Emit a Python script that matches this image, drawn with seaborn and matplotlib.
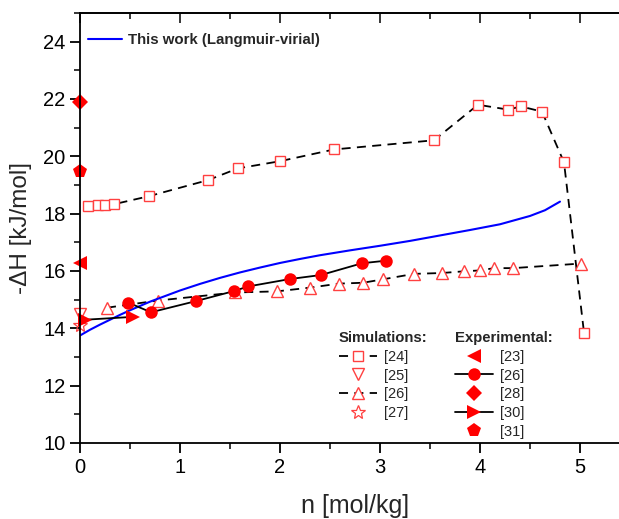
import seaborn as sns
import matplotlib.pyplot as plt
from matplotlib.lines import Line2D
from matplotlib.ticker import MultipleLocator, NullFormatter

sns.set_style('ticks')
plt.rcParams['font.family'] = ['Liberation Sans', 'DejaVu Sans']

# This work (Langmuir-virial)
fit_n = [0.0, 0.1, 0.2, 0.3, 0.4, 0.5, 0.6, 0.7, 0.8, 1.0, 1.2, 1.4, 1.6, 1.8, 2.0, 2.2, 2.4,
         2.7, 3.0, 3.3, 3.6, 3.9, 4.2, 4.5, 4.65, 4.8]
fit_dh = [13.75, 13.95, 14.13, 14.3, 14.47, 14.63, 14.78, 14.93, 15.06, 15.32, 15.55, 15.76,
          15.95, 16.12, 16.28, 16.42, 16.55, 16.72, 16.88, 17.05, 17.24, 17.43, 17.63, 17.92,
          18.12, 18.42]

# Simulations
sim24_n = [0.08, 0.18, 0.25, 0.34, 0.69, 1.28, 1.58, 2.0, 2.54, 3.54, 3.98, 4.28, 4.41, 4.62, 4.84, 5.04]
sim24_dh = [18.26, 18.30, 18.30, 18.33, 18.61, 19.17, 19.58, 19.83, 20.24, 20.56, 21.80, 21.63, 21.74, 21.56, 19.79, 13.85]
sim25_n = [0.0]
sim25_dh = [14.5]
sim26_n = [0.27, 0.78, 1.55, 1.97, 2.3, 2.59, 2.83, 3.03, 3.34, 3.62, 3.84, 4.0, 4.14, 4.33, 5.01]
sim26_dh = [14.72, 14.97, 15.25, 15.29, 15.42, 15.56, 15.59, 15.71, 15.9, 15.93, 15.99, 16.02, 16.1, 16.1, 16.26]
sim27_n = [0.0]
sim27_dh = [14.12]

# Experimental
exp23_n = [0.0]
exp23_dh = [16.27]
exp26_n = [0.48, 0.71, 1.16, 1.54, 1.68, 2.1, 2.41, 2.82, 3.06]
exp26_dh = [14.9, 14.56, 14.95, 15.3, 15.46, 15.72, 15.86, 16.27, 16.36]
exp28_n = [0.0]
exp28_dh = [21.9]
exp30_n = [0.05, 0.53]
exp30_dh = [14.3, 14.4]
exp31_n = [0.0]
exp31_dh = [19.48]

OPEN = '#ff4040'
FILL = '#ff0000'
DASH = (0, (5, 3.5))

fig = plt.figure(figsize=(6.19, 5.19), dpi=100)
ax = fig.add_axes([80 / 619, 76 / 519, 550 / 619, 430 / 519])

# simulation series (open markers)
sns.lineplot(x=sim24_n, y=sim24_dh, ax=ax, color='k', lw=1.3, linestyle=DASH, marker='s', ms=7,
             mfc='white', mec=OPEN, mew=1.0, errorbar=None, clip_on=False)
sns.lineplot(x=sim26_n, y=sim26_dh, ax=ax, color='k', lw=1.3, linestyle=DASH, marker='^', ms=9,
             mfc='white', mec=OPEN, mew=1.0, errorbar=None, clip_on=False)
sns.lineplot(x=sim25_n, y=sim25_dh, ax=ax, linestyle='none', marker='v', ms=9,
             mfc='none', mec=OPEN, mew=1.0, errorbar=None, clip_on=False)
sns.lineplot(x=sim27_n, y=sim27_dh, ax=ax, linestyle='none', marker='*', ms=10,
             mfc='none', mec=OPEN, mew=0.9, errorbar=None, clip_on=False)

# this work
sns.lineplot(x=fit_n, y=fit_dh, ax=ax, color='#0000ff', lw=1.5, errorbar=None)

# experimental series (filled markers)
sns.lineplot(x=exp26_n, y=exp26_dh, ax=ax, color='k', lw=1.3, marker='o', ms=9,
             mfc=FILL, mec=FILL, mew=0, errorbar=None)
sns.lineplot(x=exp30_n, y=exp30_dh, ax=ax, color='k', lw=1.3, marker='>', ms=10,
             mfc=FILL, mec=FILL, mew=0, errorbar=None, clip_on=False)
sns.lineplot(x=exp23_n, y=exp23_dh, ax=ax, linestyle='none', marker='<', ms=10,
             mfc=FILL, mec=FILL, mew=0, errorbar=None, clip_on=False)
sns.lineplot(x=exp28_n, y=exp28_dh, ax=ax, linestyle='none', marker='D', ms=8,
             mfc=FILL, mec=FILL, mew=0, errorbar=None, clip_on=False)
sns.lineplot(x=exp31_n, y=exp31_dh, ax=ax, linestyle='none', marker='p', ms=10,
             mfc=FILL, mec=FILL, mew=0, errorbar=None, clip_on=False)

ax.set_xlim(0, 5.5)
ax.set_ylim(10, 25)
ax.xaxis.set_major_locator(MultipleLocator(1))
ax.xaxis.set_minor_locator(MultipleLocator(0.5))
ax.yaxis.set_major_locator(MultipleLocator(2))
ax.yaxis.set_minor_locator(MultipleLocator(1))
ax.tick_params(which='major', direction='out', length=7, width=1.3, labelsize=14.5, colors='k')
ax.tick_params(which='minor', direction='out', length=4, width=1.3)
for side in ['left', 'bottom', 'top']:
    ax.spines[side].set_linewidth(1.3)
    ax.spines[side].set_color('k')
ax.spines['right'].set_visible(False)

# ticks along the top, pointing inward
top = ax.secondary_xaxis('top')
top.xaxis.set_major_locator(MultipleLocator(1))
top.xaxis.set_minor_locator(MultipleLocator(0.5))
top.xaxis.set_major_formatter(NullFormatter())
top.tick_params(which='major', direction='in', length=7, width=1.3)
top.tick_params(which='minor', direction='in', length=4, width=1.3)
top.spines['top'].set_linewidth(1.3)

ax.set_xlabel('n [mol/kg]', fontsize=18)
ax.set_ylabel('-ΔH [kJ/mol]', fontsize=17.5)
ax.xaxis.set_label_coords(0.5, -0.118)
ax.yaxis.set_label_coords(-0.087, 0.5)

# legends
fit_leg = ax.legend(handles=[Line2D([], [], color='#0000ff', lw=1.5)],
                    labels=['This work (Langmuir-virial)'],
                    loc='center left', bbox_to_anchor=(0.0145, 0.937), frameon=False,
                    handlelength=2.3, handletextpad=0.4, borderpad=0, borderaxespad=0,
                    prop={'weight': 'bold', 'size': 10.8})
ax.add_artist(fit_leg)

sim_handles = [
    Line2D([], [], color='k', lw=1.3, ls=DASH, marker='s', ms=7, mfc='white', mec=OPEN, mew=1.0),
    Line2D([], [], ls='none', marker='v', ms=9, mfc='none', mec=OPEN, mew=1.0),
    Line2D([], [], color='k', lw=1.3, ls=DASH, marker='^', ms=9, mfc='white', mec=OPEN, mew=1.0),
    Line2D([], [], ls='none', marker='*', ms=10, mfc='none', mec=OPEN, mew=0.9),
]
sim_leg = ax.legend(handles=sim_handles, labels=['[24]', '[25]', '[26]', '[27]'],
                    title='Simulations:', loc='upper left', bbox_to_anchor=(0.471, 0.26),
                    frameon=False, alignment='left', handlelength=2.6, handletextpad=0.45,
                    labelspacing=0.32, borderpad=0, borderaxespad=0, fontsize=10.5,
                    title_fontproperties={'weight': 'bold', 'size': 10.7})
ax.add_artist(sim_leg)

exp_handles = [
    Line2D([], [], ls='none', marker='<', ms=10, mfc=FILL, mec=FILL, mew=0),
    Line2D([], [], color='k', lw=1.3, marker='o', ms=9, mfc=FILL, mec=FILL, mew=0),
    Line2D([], [], ls='none', marker='D', ms=8, mfc=FILL, mec=FILL, mew=0),
    Line2D([], [], color='k', lw=1.3, marker='>', ms=10, mfc=FILL, mec=FILL, mew=0),
    Line2D([], [], ls='none', marker='p', ms=10, mfc=FILL, mec=FILL, mew=0),
]
ax.legend(handles=exp_handles, labels=['[23]', '[26]', '[28]', '[30]', '[31]'],
          title='Experimental:', loc='upper left', bbox_to_anchor=(0.682, 0.26),
          frameon=False, alignment='left', handlelength=2.6, handletextpad=0.45,
          labelspacing=0.32, borderpad=0, borderaxespad=0, fontsize=10.5,
          title_fontproperties={'weight': 'bold', 'size': 10.7})

fig.savefig('out.png', dpi=100)
